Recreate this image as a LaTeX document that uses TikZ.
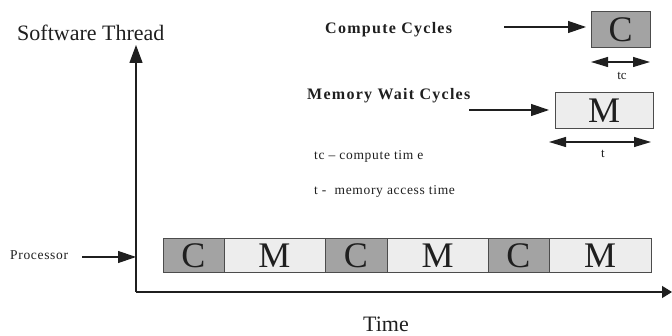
\documentclass[tikz,border=0pt]{standalone}
\usepackage{fontspec}
\setmainfont{Liberation Serif}
\newfontfamily\spacedfont[LetterSpace=8]{Liberation Serif}
\newfontfamily\lightspaced[LetterSpace=5]{Liberation Serif}
\usetikzlibrary{arrows.meta}
\definecolor{cdark}{gray}{0.64}
\definecolor{clight}{gray}{0.93}
\definecolor{edge}{gray}{0.30}
\definecolor{ink}{gray}{0.12}
\tikzset{
  cbox/.style={draw=edge, fill=cdark, line width=1pt, inner sep=0pt, outer sep=0pt,
    font=\fontsize{36}{36}\selectfont, text=ink},
  mbox/.style={draw=edge, fill=clight, line width=1pt, inner sep=0pt, outer sep=0pt,
    font=\fontsize{36}{36}\selectfont, text=ink},
  axis/.style={draw=ink, line width=1.3pt},
  pointer/.style={draw=ink, line width=1.2pt, -{Triangle[length=18pt,width=12pt]}},
  dimarrow/.style={draw=ink, line width=1.1pt, {Triangle[length=17pt,width=10pt]}-{Triangle[length=17pt,width=10pt]}},
  bigtext/.style={font=\fontsize{22}{22}\selectfont, text=ink, inner sep=0pt},
  headtext/.style={font=\spacedfont\bfseries\fontsize{16}{16}\selectfont, text=ink, inner sep=0pt},
  smalltext/.style={font=\lightspaced\fontsize{13.5}{13.5}\selectfont, text=ink, inner sep=0pt},
  tinytext/.style={font=\fontsize{13}{13}\selectfont, text=ink, inner sep=0pt}
}
\begin{document}
\begin{tikzpicture}[x=1pt,y=-1pt]
\useasboundingbox (0,0) rectangle (672,336);
% axes
\coordinate (origin) at (136,292);
\coordinate (ytip) at (136,45);
\coordinate (xtip) at (672,292);
\draw[axis, -{Triangle[length=18pt,width=13pt]}] (origin) -- (ytip);
\draw[axis, -{Triangle[length=10pt,width=12pt]}] (origin) -- (xtip);
% axis labels
\node[bigtext, anchor=base west] (ylabel) at (17,40.5) {Software Thread};
\node[bigtext, anchor=base west] (xlabel) at (363,332) {Time};
% legend
\node[cbox, minimum width=59pt, minimum height=36pt] (Cleg) at (620.5,30) {C};
\node[mbox, minimum width=98pt, minimum height=36pt] (Mleg) at (604,111) {M};
\node[headtext, anchor=base west] (ctext) at (325,34) {Compute Cycles};
\node[headtext, anchor=base west] (mtext) at (307,99.5) {Memory Wait Cycles};
\coordinate (cstart) at (504,27);
\coordinate (mstart) at (469,110);
\draw[pointer, shorten >=5pt] (cstart) -- (cstart -| Cleg.west);
\draw[pointer, shorten >=6pt] (mstart) -- (mstart -| Mleg.west);
\draw[dimarrow] ([yshift=-14pt]Cleg.south west) -- ([yshift=-14pt]Cleg.south east);
\node[tinytext, anchor=base] (tclabel) at (622,80) {tc};
\draw[dimarrow] ([xshift=-6pt,yshift=-13pt]Mleg.south west) -- ([xshift=-2pt,yshift=-13pt]Mleg.south east);
\node[tinytext, anchor=base] (tlabel) at (603,158) {t};
\node[smalltext, anchor=base west] (def1) at (314,160) {tc – compute tim e};
\node[smalltext, anchor=base west] (def2) at (314,195) {t -\ \ memory access time};
% processor
\node[smalltext, anchor=base west] (proc) at (10,260) {Processor};
\coordinate (pstart) at (82,257);
\draw[pointer] (pstart) -- (pstart -| origin);
% timeline
\node[cbox, minimum width=61pt, minimum height=34pt] (c1) at (193.5,256) {C};
\node[mbox, minimum width=101pt, minimum height=34pt] (m1) at (274.5,256) {M};
\node[cbox, minimum width=62pt, minimum height=34pt] (c2) at (356,256) {C};
\node[mbox, minimum width=101pt, minimum height=34pt] (m2) at (437.5,256) {M};
\node[cbox, minimum width=61pt, minimum height=34pt] (c3) at (518.5,256) {C};
\node[mbox, minimum width=102pt, minimum height=34pt] (m3) at (600,256) {M};
\end{tikzpicture}
\end{document}
